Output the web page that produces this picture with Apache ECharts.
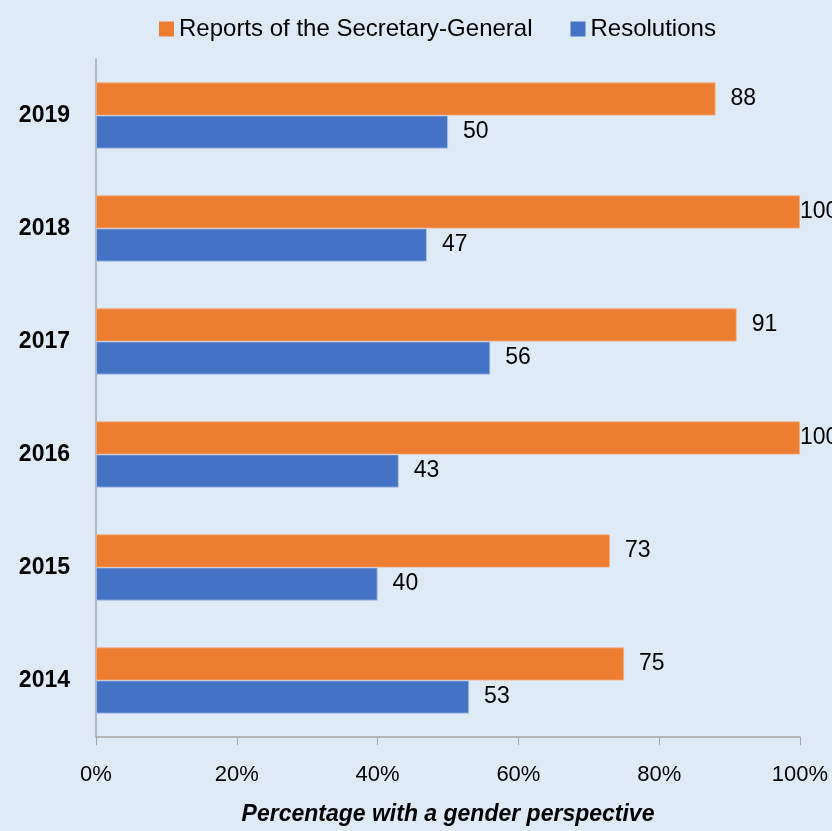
<!DOCTYPE html>
<html>
<head>
<meta charset="utf-8">
<script src="https://cdn.jsdelivr.net/npm/echarts@6/dist/echarts.min.js"></script>
<style>
html,body{margin:0;padding:0;background:#deebf7;}
#chart{width:832px;height:831px;}
</style>
</head>
<body>
<div id="chart"></div>
<script>
var years = ['2014', '2015', '2016', '2017', '2018', '2019'];
var reports = [75, 73, 100, 91, 100, 88];
var resolutions = [53, 40, 43, 56, 47, 50];
var xTicks = [0, 20, 40, 60, 80, 100];

var FONT = '"Liberation Sans", "Noto Sans", sans-serif';

function toData(arr) {
  return arr.map(function (v) {
    return v >= 100 ? { value: v, label: { distance: 0 } } : v;
  });
}

var chart = echarts.init(document.getElementById('chart'));
chart.setOption({
  backgroundColor: '#deebf7',
  animation: false,
  textStyle: { fontFamily: FONT },
  legend: {
    top: 12,
    left: 154,
    itemWidth: 15,
    itemHeight: 15,
    itemGap: 38,
    icon: 'rect',
    itemStyle: { borderWidth: 0 },
    data: ['Reports of the Secretary-General', 'Resolutions'],
    textStyle: { fontSize: 24, color: '#000', fontFamily: FONT }
  },
  grid: { left: 96, right: 32, top: 59, bottom: 89, containLabel: false },
  xAxis: {
    type: 'value',
    min: 0,
    max: 100,
    interval: 20,
    name: 'Percentage with a gender perspective',
    nameLocation: 'middle',
    nameGap: 66,
    nameTextStyle: { fontSize: 23, fontWeight: 'bold', fontStyle: 'italic', color: '#000', fontFamily: FONT },
    axisLine: { show: true, lineStyle: { color: '#a6a6a6', width: 1.5 } },
    axisTick: { show: true, length: 8, lineStyle: { color: '#a6a6a6' } },
    splitLine: { show: false },
    axisLabel: {
      fontSize: 22, color: '#000', margin: 27,
      formatter: function (v) { return xTicks.indexOf(v) >= 0 ? v + '%' : ''; }
    }
  },
  yAxis: {
    type: 'category',
    data: years,
    axisLine: { show: true, lineStyle: { color: '#a6a6a6', width: 1.5 } },
    axisTick: { show: false },
    axisLabel: { fontSize: 23, fontWeight: 'bold', color: '#000', margin: 26 }
  },
  series: [
    {
      name: 'Reports of the Secretary-General',
      type: 'bar',
      data: toData(reports),
      barGap: '0%',
      barCategoryGap: '41.5%',
      itemStyle: { color: '#ed7d31', borderColor: '#f4b183', borderWidth: 0.8 },
      label: { show: true, position: 'right', distance: 15, fontSize: 23, color: '#000' }
    },
    {
      name: 'Resolutions',
      type: 'bar',
      data: toData(resolutions),
      barGap: '0%',
      barCategoryGap: '41.5%',
      itemStyle: { color: '#4472c4', borderColor: '#b4c7e7', borderWidth: 0.8 },
      label: { show: true, position: 'right', distance: 15, fontSize: 23, color: '#000' }
    }
  ]
});
</script>
</body>
</html>
